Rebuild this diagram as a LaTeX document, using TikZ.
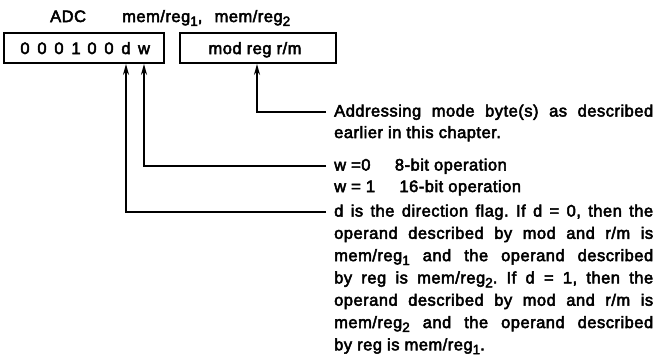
\documentclass[tikz,border=0pt]{standalone}
\usepackage{fontspec}
\setmainfont[LetterSpace=3,FakeBold=3]{Liberation Sans}
\usetikzlibrary{arrows.meta}
\newcommand\sbx[1]{\raisebox{-0.45ex}{\fontsize{13.5}{13.5}\selectfont #1}}
\newcommand\jline[1]{\makebox[319pt][s]{#1}}
\frenchspacing
\begin{document}
\begin{tikzpicture}[x=1pt,y=-1pt,
  txt/.style={font=\fontsize{16.5}{20}\selectfont, inner sep=0pt, anchor=base west},
  hdr/.style={font=\fontsize{16.5}{20}\selectfont, inner sep=0pt, anchor=base},
  fieldbox/.style={draw, line width=1.8pt},
  ptr/.style={line width=1.8pt, -{Stealth[length=11pt,width=6pt]}}]
\useasboundingbox (0,0) rectangle (657,360);
% header
\node[txt] (adc) at (50,22) {ADC};
\node[txt] (mr) at (122,22) {\makebox[168pt][s]{mem/reg\sbx{1}, mem/reg\sbx{2}}};
% boxes
\node[fieldbox, minimum width=160pt, minimum height=30pt, inner sep=0pt] (b1) at (84,48) {};
\node[fieldbox, minimum width=156pt, minimum height=30pt, inner sep=0pt] (b2) at (258,48) {};
\foreach \ch/\xx/\nm in {0/25/c1,0/42/c2,0/59/c3,1/76/c4,0/92/c5,0/109/c6,d/126/cd,w/144/cw}
  \node[hdr] (\nm) at (\xx,54) {\ch};
\node[hdr] (mrm) at (255,54) {mod reg r/m};
% connector end points
\coordinate (pm) at (257,112);
\coordinate (pw) at (144,166);
\coordinate (pd) at (126,212);
\coordinate (em) at (326,112);
\coordinate (ew) at (326,166);
\coordinate (ed) at (326,212);
\draw[ptr] (em) -- (pm) -- (pm |- b2.south);
\draw[ptr] (ew) -- (pw) -- (pw |- b1.south);
\draw[ptr] (ed) -- (pd) -- (pd |- b1.south);
% texts
\node[txt] (t1) at (334,116.5) {\jline{Addressing mode byte(s) as described}};
\node[txt] (t2) at (334,138) {earlier in this chapter.};
\node[txt] (w0) at (334,170.5) {w =0};
\node[txt] (w0b) at ([xshift=24pt]w0.base east) {8-bit operation};
\node[txt] (w1) at (334,192) {w = 1};
\node[txt] (w1b) at ([xshift=24pt]w1.base east) {16-bit operation};
\node[txt] (d1) at (334,216.5) {\jline{d is the direction flag. If d = 0, then the}};
\node[txt] (d2) at (334,238.8) {\jline{operand described by mod and r/m is}};
\node[txt] (d3) at (334,261.1) {\jline{mem/reg\sbx{1} and the operand described}};
\node[txt] (d4) at (334,283.4) {\jline{by reg is mem/reg\sbx{2}. If d = 1, then the}};
\node[txt] (d5) at (334,305.7) {\jline{operand described by mod and r/m is}};
\node[txt] (d6) at (334,328.0) {\jline{mem/reg\sbx{2} and the operand described}};
\node[txt] (d7) at (334,350.3) {by reg is mem/reg\sbx{1}.};
\end{tikzpicture}
\end{document}
